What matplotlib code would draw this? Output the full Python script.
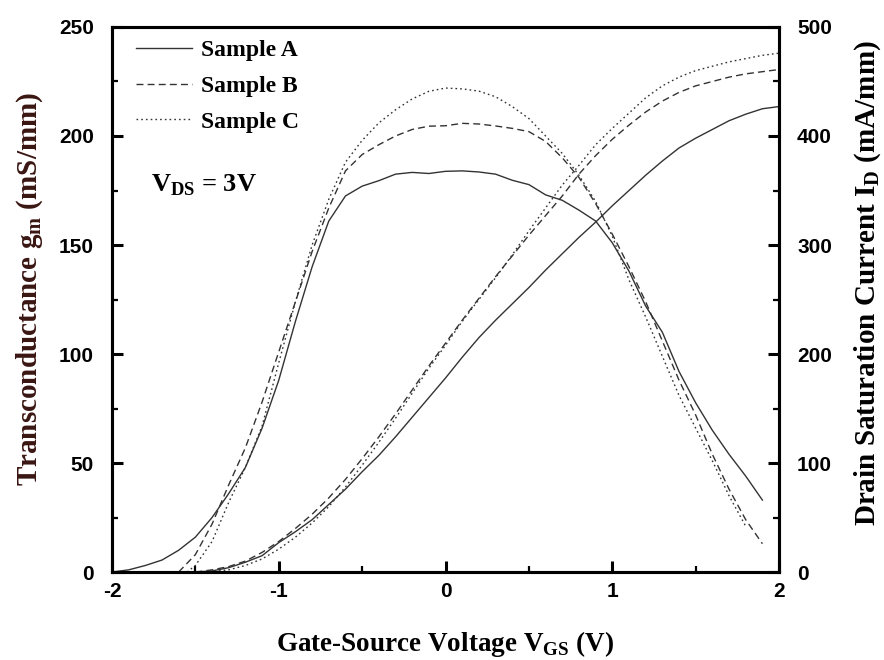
import numpy as np
import matplotlib.pyplot as plt

plt.rcParams['axes.unicode_minus'] = False

# transconductance gm (mS/mm), left axis
vgs_gm_a = [-2.0, -1.9, -1.8, -1.7, -1.6, -1.5, -1.4, -1.3, -1.2, -1.1, -1.0, -0.9, -0.8, -0.7,
            -0.6, -0.5, -0.4, -0.3, -0.2, -0.1, 0.0, 0.1, 0.2, 0.3, 0.4, 0.5, 0.6, 0.7, 0.8, 0.9,
            1.0, 1.1, 1.2, 1.3, 1.4, 1.5, 1.6, 1.7, 1.8, 1.9]
gm_a = [0, 1, 3, 5.5, 10, 16, 25, 36, 48, 66, 88, 115, 140, 161,
        172.5, 177, 179.5, 182.5, 183.3, 182.8, 183.8, 184, 183.5, 182.5, 179.7, 177.7, 173, 170.5, 166, 161,
        151, 138, 122, 110, 92, 77.6, 65, 54, 44, 33]

vgs_gm_b = [-1.6, -1.5, -1.4, -1.3, -1.2, -1.1, -1.0, -0.9, -0.8, -0.7, -0.6, -0.5, -0.4, -0.3,
            -0.2, -0.1, 0.0, 0.1, 0.2, 0.3, 0.4, 0.5, 0.6, 0.7, 0.8, 0.9, 1.0, 1.1, 1.2, 1.3,
            1.4, 1.5, 1.6, 1.7, 1.8, 1.9]
gm_b = [0, 8, 22, 40, 57, 78, 101, 124, 147, 167, 184, 191.5, 196, 200,
        203, 204.5, 204.7, 205.8, 205.5, 204.6, 203.5, 202, 197.5, 190, 181, 169, 155, 140, 124, 106,
        88, 72, 54, 38, 24, 13]

vgs_gm_c = [-1.55, -1.5, -1.4, -1.3, -1.2, -1.1, -1.0, -0.9, -0.8, -0.7, -0.6, -0.5, -0.4, -0.3,
            -0.2, -0.1, 0.0, 0.1, 0.2, 0.3, 0.4, 0.5, 0.6, 0.7, 0.8, 0.9, 1.0, 1.1, 1.2, 1.3,
            1.4, 1.5, 1.6, 1.7, 1.8]
gm_c = [0, 3, 14, 32, 48, 67, 96, 124, 150, 171, 188, 198, 206, 212,
        217, 220.5, 222, 221.6, 220.6, 218, 213.5, 208, 200, 192, 182, 170, 154, 134, 117, 99,
        81, 66, 51, 35, 21]

# drain saturation current ID (mA/mm), right axis
vgs_id = [-1.5, -1.4, -1.3, -1.2, -1.1, -1.0, -0.9, -0.8, -0.7, -0.6, -0.5, -0.4, -0.3, -0.2,
          -0.1, 0.0, 0.1, 0.2, 0.3, 0.4, 0.5, 0.6, 0.7, 0.8, 0.9, 1.0, 1.1, 1.2, 1.3, 1.4,
          1.5, 1.6, 1.7, 1.8, 1.9, 2.0]
id_a = [0, 1, 4, 9, 15, 27, 37, 48, 62, 76, 92, 107, 124, 142,
        160, 178, 197, 215, 231, 246, 261, 277, 292, 307, 321, 336, 350, 364, 377, 389,
        398, 406, 414, 420, 425, 427]
id_b = [0, 2, 5, 10, 18, 28, 40, 53, 68, 85, 104, 124, 145, 167,
        189, 210, 231, 251, 271, 290, 309, 327, 345, 365, 382, 397, 410, 422, 432, 440,
        446, 450, 454, 457, 459, 461]
id_c = [0, 0.5, 2, 6, 12, 21, 32, 45, 60, 78, 98, 119, 141, 164,
        187, 208, 230, 250, 270, 291, 313, 334, 355, 373, 392, 407, 421, 435, 446, 454,
        460, 464, 468, 471, 474, 476]

labels = ['Sample A', 'Sample B', 'Sample C']
styles = ['-', (0, (5, 3)), (0, (1.2, 2.2))]
line_color = '#333333'

serif = ['Liberation Serif', 'DejaVu Serif']
sans = ['Liberation Sans', 'DejaVu Sans']

fig = plt.figure(figsize=(8.84, 6.6), dpi=100)
ax = fig.add_axes([0.1267, 0.1333, 0.7546, 0.8258])
ax2 = ax.twinx()

for vg, gm, ls, lab in zip([vgs_gm_a, vgs_gm_b, vgs_gm_c], [gm_a, gm_b, gm_c], styles, labels):
    ax.plot(vg, gm, linestyle=ls, color=line_color, lw=1.0, label=lab)
for cur, ls in zip([id_a, id_b, id_c], styles):
    ax2.plot(vgs_id, cur, linestyle=ls, color=line_color, lw=1.0)

ax.set_xlim(-2, 2)
ax.set_ylim(0, 250)
ax2.set_ylim(0, 500)
ax.set_xticks([-2, -1, 0, 1, 2])
ax.set_xticks([-1.5, -0.5, 0.5, 1.5], minor=True)
ax.set_yticks([0, 50, 100, 150, 200, 250])
ax.set_yticks([25, 75, 125, 175, 225], minor=True)
ax2.set_yticks([0, 100, 200, 300, 400, 500])
ax2.set_yticks([50, 150, 250, 350, 450], minor=True)

for a in (ax, ax2):
    for s in a.spines.values():
        s.set_linewidth(2.2)
    a.tick_params(which='major', direction='in', length=8, width=2.2, pad=13)
    a.tick_params(which='minor', direction='in', length=4, width=1.6)
    for t in a.get_xticklabels() + a.get_yticklabels():
        t.set_family(sans)
        t.set_fontweight('bold')
        t.set_fontsize(15)
ax.tick_params(axis='x', pad=7)

ax.set_xlabel(r'Gate-Source Voltage V$_{\mathregular{GS}}$ (V)', family=serif,
              fontweight='bold', fontsize=19.5, labelpad=20)
ax.set_ylabel(r'Transconductance g$_{\mathregular{m}}$ (mS/mm)', family=serif,
              fontweight='bold', fontsize=21, color='#3a1612')
ax2.set_ylabel(r'Drain Saturation Current I$_{\mathregular{D}}$ (mA/mm)', family=serif,
               fontweight='bold', fontsize=21)
ax.yaxis.set_label_coords(-0.100, 0.52)
ax2.yaxis.set_label_coords(1.110, 0.53)

leg = ax.legend(loc='upper left', bbox_to_anchor=(0.0, 1.02), frameon=False,
                prop={'family': serif, 'weight': 'bold', 'size': 17},
                handlelength=2.4, handletextpad=0.35, labelspacing=0.6, borderaxespad=0.5,
                borderpad=0.5)

ax.text(0.058, 0.71, r'V$_{\mathregular{DS}}$ = 3V', transform=ax.transAxes,
        family=serif, fontweight='bold', fontsize=19, va='center')

fig.savefig('out.png', dpi=100)
